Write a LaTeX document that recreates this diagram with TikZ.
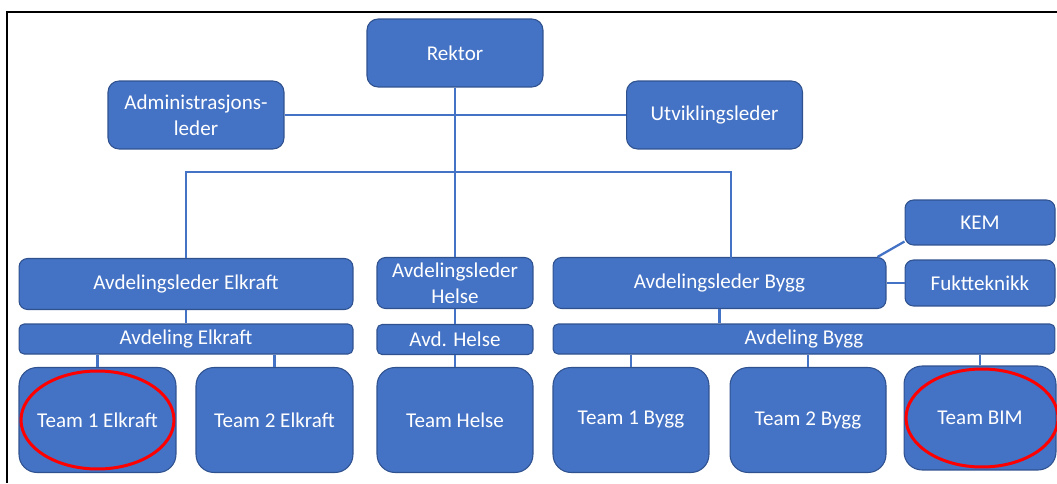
\documentclass[tikz,border=0pt]{standalone}
\usepackage{fontspec}
\setmainfont{Carlito}

\begin{document}
\begin{tikzpicture}[
  x=0.02cm, y=-0.02cm,
  unit/.style={draw=unitedge, fill=unitfill, line width=0.6pt, text=white,
    inner sep=0pt, align=center, font=\fontsize{12}{14.7}\selectfont},
  tall/.style={unit, rounded corners=0.22cm, minimum width=3.52cm, minimum height=1.36cm},
  lead/.style={unit, rounded corners=0.17cm, minimum height=1.02cm},
  bar/.style={unit, rounded corners=0.1cm, minimum height=0.6cm},
  team/.style={unit, rounded corners=0.36cm, minimum width=3.12cm, minimum height=2.1cm},
  link/.style={draw=unitfill, line width=1.3pt},
  ring/.style={draw=red, line width=1.7pt},
]
\definecolor{unitfill}{RGB}{68,114,196}
\definecolor{unitedge}{RGB}{47,82,143}

\useasboundingbox (0,0) rectangle (1057,483);
\draw [line width=1.1pt] (7,483) -- (7,12) -- (1057,12);

% top management
\node [tall] (rektor) at (455,53) {Rektor};
\node [tall] (admin) at (196,115) {Administrasjons-\\leder};
\node [tall] (utvikling) at (714.5,115) {Utviklingsleder};

% department leaders
\node [lead, minimum width=6.68cm] (elleder) at (186,284) {Avdelingsleder Elkraft};
\node [lead, minimum width=3.12cm] (helseleder) at (455,283) {Avdelingsleder\\Helse};
\node [lead, minimum width=6.66cm] (byggleder) at (719.5,283) {Avdelingsleder Bygg};
\node [lead, minimum width=3.0cm, minimum height=0.9cm] (kem) at (980,222.5) {KEM};
\node [lead, minimum width=3.0cm, minimum height=0.92cm] (fukt) at (980,283) {Fuktteknikk};

% departments
\node [bar, minimum width=6.68cm] (avdel) at (186,339) {Avdeling Elkraft};
\node [bar, minimum width=3.12cm] (avdhelse) at (455,339.5) {Avd. Helse};
\node [bar, minimum width=10.04cm] (avdbygg) at (804,339) {Avdeling Bygg};

% teams
\node [team, minimum width=3.14cm] (teamelA) at (97.5,420) {Team 1 Elkraft};
\node [team, minimum width=3.14cm] (teamelB) at (274.5,420) {Team 2 Elkraft};
\node [team] (teamhelse) at (455,420) {Team Helse};
\node [team] (teambyA) at (631,420) {Team 1 Bygg};
\node [team] (teambyB) at (808,420) {Team 2 Bygg};
\node [team, minimum width=3.04cm, minimum height=2.08cm] (teambim) at (980,418) {Team BIM};

\coordinate (bus) at (455,172);
\coordinate (byggtop) at (731,258);

\draw [link] (admin) -- (utvikling);
\draw [link] (rektor.south) -- (helseleder.north);
\draw [link] (elleder.north) |- (bus) -| (byggtop);
\draw [link] ([xshift=-0.18cm]byggleder.north east) -- ([yshift=0.08cm]kem.south west);
\draw [link] (byggleder) -- (fukt);

\draw [link] (elleder.south) -- (avdel.north);
\draw [link] (helseleder.south) -- (avdhelse.north);
\draw [link] (byggleder.south) -- (byggleder.south |- avdbygg.north);

\draw [link] (teamelA.north) -- (teamelA.north |- avdel.south);
\draw [link] (teamelB.north) -- (teamelB.north |- avdel.south);
\draw [link] (avdhelse.south) -- (teamhelse.north);
\draw [link] (teambyA.north) -- (teambyA.north |- avdbygg.south);
\draw [link] (teambyB.north) -- (teambyB.north |- avdbygg.south);
\draw [link] (teambim.north) -- (teambim.north |- avdbygg.south);

\draw [ring] (teamelA.center) ellipse [x radius=1.53cm, y radius=0.98cm];
\draw [ring] ([xshift=0.04cm]teambim.center) ellipse [x radius=1.52cm, y radius=0.98cm];

\end{tikzpicture}
\end{document}
